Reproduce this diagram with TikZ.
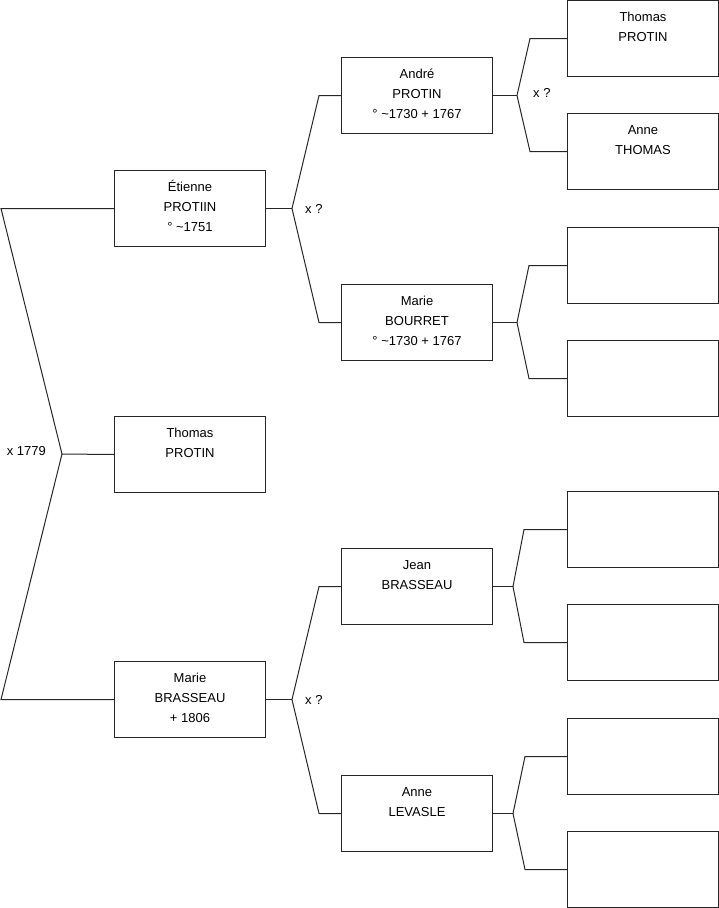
\documentclass[tikz,border=0pt]{standalone}
\usepackage{fontspec}
\setmainfont{Liberation Sans}
\usetikzlibrary{positioning,calc}
\tikzset{
  person/.style={draw=black!85,line width=1pt,anchor=north west,inner sep=0pt,minimum width=151pt,minimum height=76pt},
  link/.style={draw=black!85,line width=1pt},
  lab/.style={font=\fontsize{13}{15}\selectfont,inner sep=0pt},
}
\newcommand{\who}[1]{\parbox[c][76pt][t]{151pt}{\centering\fontsize{13}{20}\selectfont\rule{0pt}{20.6pt}#1}}

\begin{document}
\begin{tikzpicture}[x=1pt,y=-1pt]
\useasboundingbox (0,0) rectangle (719,908);
% generation 1 and 2
\node[person] (etienne) at (114,170) {\who{Étienne\\PROTIIN\\° \textasciitilde1751}};
\node[person] (thomas) at (114,416) {\who{Thomas\\PROTIN}};
\node[person] (marieb) at (114,661) {\who{Marie\\BRASSEAU\\+ 1806}};
% generation 3
\node[person] (andre) at (341,57) {\who{André\\PROTIN\\° \textasciitilde1730 + 1767}};
\node[person] (mariebo) at (341,284) {\who{Marie\\BOURRET\\° \textasciitilde1730 + 1767}};
\node[person] (jean) at (341,548) {\who{Jean\\BRASSEAU}};
\node[person] (anne) at (341,775) {\who{Anne\\LEVASLE}};
% generation 4
\node[person] (g1) at (567,0) {\who{Thomas\\PROTIN}};
\node[person] (g2) at (567,113) {\who{Anne\\THOMAS}};
\foreach \n/\y in {g3/227,g4/340,g5/491,g6/604,g7/718,g8/831}
  \node[person] (\n) at (567,\y) {\who{}};

% forks
\coordinate (j0) at (62,454);
\draw[link] (etienne.west) -- ++(-113,0) -- (j0) -- ($(marieb.west)+(-113,0)$) -- (marieb.west);
\draw[link] (thomas.west) -- (j0);
\foreach \p/\a/\b/\jx/\ex in {etienne/andre/mariebo/26/22, marieb/jean/anne/26/22,
    andre/g1/g2/24/37, mariebo/g3/g4/24/38, jean/g5/g6/20/43, anne/g7/g8/20/42}{
  \draw[link] (\a.west) -- ++(-\ex,0) -- ($(\p.east)+(\jx,0)$) coordinate (j-\p)
    -- ($(\b.west)+(-\ex,0)$) -- (\b.west);
  \draw[link] (\p.east) -- (j-\p);
}

\node[lab,left=16pt of j0,yshift=3pt] (m0) {x 1779};
\node[lab,right=13pt of j-etienne] (m1) {x ?};
\node[lab,right=13pt of j-marieb] (m2) {x ?};
\node[lab,right=16pt of j-andre,yshift=3pt] (m3) {x ?};
\end{tikzpicture}
\end{document}
